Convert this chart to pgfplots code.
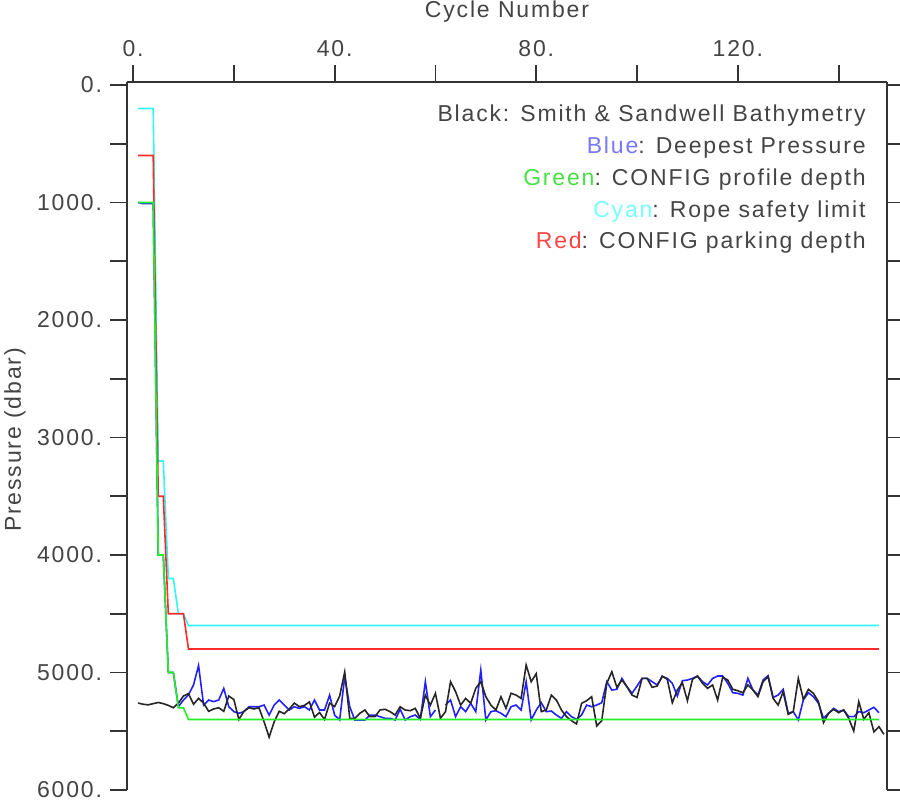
\documentclass[border=0pt]{standalone}
\usepackage{pgfplots}
\pgfplotsset{compat=1.18}
\usepackage{fontspec}
\setmainfont{Liberation Sans}[LetterSpace=8]
\definecolor{txt}{HTML}{333333}
\definecolor{ltxt}{HTML}{444444}
\definecolor{lnblue}{HTML}{2222FF}
\definecolor{lngreen}{HTML}{22F022}
\definecolor{lncyan}{HTML}{33F5F5}
\definecolor{lnred}{HTML}{FF2A2A}
\definecolor{tblue}{HTML}{7777FF}
\definecolor{tgreen}{HTML}{44E044}
\definecolor{tcyan}{HTML}{77FFFF}
\definecolor{tred}{HTML}{FF4444}

\pgfplotstableread{
c p
1 1000
2 1010
3 1010
4 1010
5 4000
6 4000
7 5000
8 5000
9 5290
10 5234
11 5190
12 5106
13 4940
14 5277
15 5234
16 5248
17 5234
18 5135
19 5291
20 5333
21 5347
22 5333
23 5291
24 5291
25 5291
26 5277
27 5362
28 5277
29 5234
30 5277
31 5319
32 5291
33 5305
34 5291
35 5319
36 5234
37 5319
38 5319
39 5192
40 5362
41 5404
42 5035
43 5291
44 5404
45 5404
46 5404
47 5362
48 5362
49 5376
50 5390
51 5390
52 5404
53 5313
54 5404
55 5376
56 5362
57 5398
58 5078
59 5376
60 5319
61 nan
62 5277
63 5234
64 5376
65 5291
66 5333
67 5262
68 5333
69 4979
70 5404
71 5333
72 5325
73 5347
74 5376
75 5291
76 5277
77 5319
78 5078
79 5404
80 5320
81 5257
82 5333
83 5328
84 5362
85 5390
86 5333
87 5376
88 5398
89 5362
90 5277
91 5291
92 5277
93 5257
94 5078
95 5149
96 5143
97 5050
98 5121
99 5177
100 5115
101 5050
102 5050
103 5078
104 5106
105 5035
106 5050
107 5092
108 5200
109 5070
110 5064
111 5050
112 5030
113 5078
114 5106
115 5050
116 5030
117 5030
118 5092
119 5172
120 5177
121 5192
122 5050
123 5149
124 5192
125 5064
126 5027
127 5212
128 5192
129 5143
130 5347
131 5333
132 5404
133 5234
134 5172
135 5206
136 5262
137 5390
138 5347
139 5305
140 5333
141 5319
142 5376
143 5376
144 5333
145 5342
146 5319
147 5296
148 5342
}\bluedata

\pgfplotstableread{
c p
1 5260
2 5270
3 5275
4 5265
5 5255
6 5265
7 5280
8 5300
9 5260
10 5200
11 5180
12 5270
13 5220
14 5260
15 5330
16 5310
17 5300
18 5330
19 5200
20 5230
21 5400
22 5330
23 5300
24 5310
25 5300
26 5420
27 5550
28 5420
29 5330
30 5350
31 5310
32 5260
33 5290
34 5280
35 5250
36 5380
37 5340
38 5400
39 5260
40 5290
41 5200
42 4995
43 5390
44 5390
45 5347
46 5319
47 5376
48 5376
49 5319
50 5313
51 5333
52 5362
53 5291
54 5319
55 5325
56 5305
57 5390
58 5192
59 5277
60 5177
61 5390
62 5333
63 5078
64 5163
65 5277
66 5220
67 5262
68 5135
69 5078
70 5206
71 5277
72 5319
73 5206
74 5305
75 5177
76 5192
77 5220
78 4936
79 5078
80 5010
81 5333
82 5319
83 5192
84 5234
85 5319
86 5376
87 5410
88 5438
89 5262
90 5240
91 5206
92 5455
93 5410
94 5092
95 4993
96 5126
97 5064
98 5121
99 5192
100 5212
101 5050
102 5050
103 5126
104 5115
105 5030
106 5058
107 5257
108 5149
109 5087
110 5240
111 5058
112 5030
113 5092
114 5135
115 5106
116 5234
117 5040
118 5064
119 5143
120 5155
121 5172
122 5106
123 5149
124 5206
125 5078
126 5035
127 5220
128 5277
129 5163
130 5356
131 5333
132 5050
133 5229
134 5143
135 5177
136 5248
137 5427
138 5347
139 5313
140 5342
141 5319
142 5390
143 5498
144 5248
145 5398
146 5342
147 5504
148 5461
149 5526
}\blackdata

\begin{document}
\fontsize{11.5}{13.8}\selectfont
\color{txt}
\begin{tikzpicture}
\path[use as bounding box] (-63.5pt,41pt) rectangle (386.5pt,-359pt);
\begin{axis}[
  at={(0,0)}, anchor=north west,
  scale only axis, width=380pt, height=354pt,
  xmin=-1.2, xmax=149.6, ymin=-25, ymax=6000,
  y dir=reverse,
  axis x line*=top, axis y line*=box,
  tick align=outside,
  xtick={0,40,80,120}, xticklabels={0.,40.,80.,120.},
  minor xtick={20,60,100,140},
  ytick={0,1000,2000,3000,4000,5000,6000},
  yticklabels={0.,1000.,2000.,3000.,4000.,5000.,6000.},
  minor ytick={500,1500,2500,3500,4500,5500},
  major tick length=8.5pt, minor tick length=8.5pt,
  tick style={color=txt, line width=0.9pt},
  axis line style={color=txt, line width=0.9pt},
  ticklabel style={color=ltxt},
  unbounded coords=jump,
]
\addplot[lncyan, line width=0.8pt] coordinates {(1,200)(4,200)(5,3200)(6,3200)(7,4200)(8,4200)(9,4500)(10,4500)(11,4600)(148,4600)};
\addplot[lnred, line width=0.8pt] coordinates {(1,600)(4,600)(5,3500)(6,3500)(7,4500)(10,4500)(11,4800)(148,4800)};
\addplot[lnblue, line width=0.8pt] table[x=c, y=p] {\bluedata};
\addplot[black!85, line width=0.8pt] table[x=c, y=p] {\blackdata};
\addplot[lngreen, line width=0.8pt] coordinates {(1,1000)(4,1000)(5,4000)(6,4000)(7,5000)(8,5000)(9,5300)(10,5300)(11,5400)(148,5400)};
\end{axis}
\begin{scope}[every node/.style={text=ltxt}]
\node at (190pt,35pt) {Cycle Number};
\node[rotate=90] at (-56pt,-179pt) {Pressure (dbar)};
\node[anchor=mid east, inner xsep=0pt] at (369.5pt,-16.9pt) {Black: Smith \& Sandwell Bathymetry};
\node[anchor=mid east, inner xsep=0pt] at (369.5pt,-32.7pt) {\textcolor{tblue}{Blue}: Deepest Pressure};
\node[anchor=mid east, inner xsep=0pt] at (369.5pt,-48.7pt) {\textcolor{tgreen}{Green}: CONFIG profile depth};
\node[anchor=mid east, inner xsep=0pt] at (369.5pt,-64.5pt) {\textcolor{tcyan}{Cyan}: Rope safety limit};
\node[anchor=mid east, inner xsep=0pt] at (369.5pt,-80.4pt) {\textcolor{tred}{Red}: CONFIG parking depth};
\end{scope}
\end{tikzpicture}
\end{document}
